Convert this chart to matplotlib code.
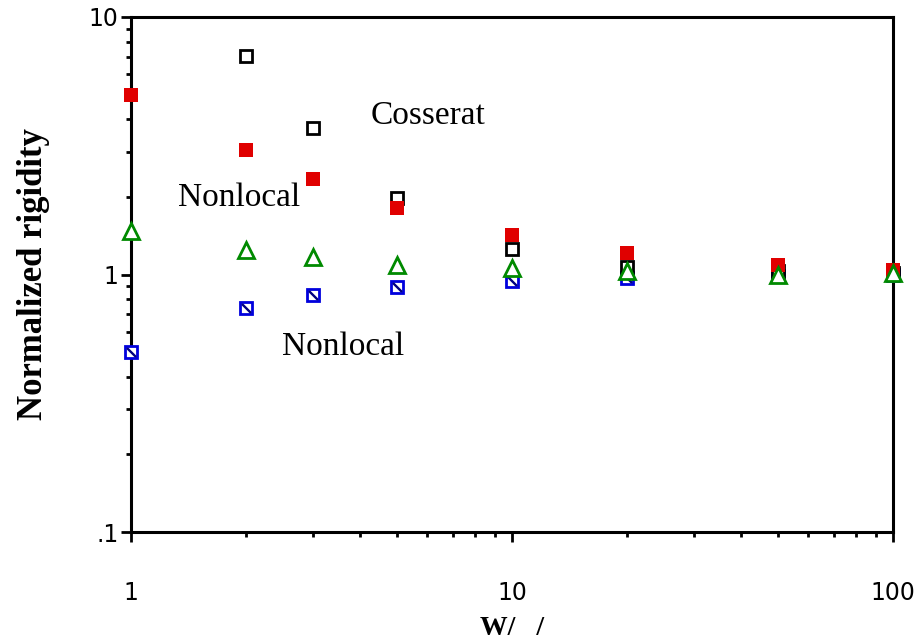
import matplotlib
matplotlib.use("Agg")
import matplotlib.pyplot as plt
from matplotlib.ticker import FixedLocator, LogLocator, NullFormatter

# Data
x_vals = [1, 2, 3, 5, 10, 20, 50, 100]
cosserat_x = [2, 3, 5, 10, 20, 50, 100]
cosserat = [7.05, 3.70, 1.99, 1.26, 1.07, 1.03, 1.01]
nonlocal_upper = [5.0, 3.04, 2.34, 1.81, 1.42, 1.21, 1.09, 1.045]
nonlocal_lower = [0.50, 0.744, 0.836, 0.898, 0.94, 0.97, 0.99, 1.0]
triangle = [1.47, 1.25, 1.165, 1.084, 1.06, 1.03, 1.0, 1.01]

xticks = [1, 10, 100]
xticklabels = ["1", "10", "100"]
yticks = [0.1, 1, 10]
yticklabels = [".1", "1", "10"]

fig = plt.figure(figsize=(9.21, 6.43), dpi=100)
ax = fig.add_axes([131/921, 1-532/643, (893-131)/921, (532-17)/643])
ax.set_xscale("log")
ax.set_yscale("log")
ax.set_xlim(1, 100)
ax.set_ylim(0.1, 10)

red = "#e00000"
blue = "#0000dd"
green = "#008a00"

ax.plot(x_vals, nonlocal_lower, linestyle="none", marker="s", markersize=8,
        markerfacecolor="white", markeredgecolor=blue, markeredgewidth=2.0, clip_on=False, zorder=3)
ax.plot(x_vals, nonlocal_lower, linestyle="none", marker=[(-0.8, 0.8), (0.8, -0.8)], markersize=6.5,
        markeredgecolor="#000080", markeredgewidth=1.7, clip_on=False, zorder=3)
ax.plot(cosserat_x, cosserat, linestyle="none", marker="s", markersize=8,
        markerfacecolor="white", markeredgecolor="black", markeredgewidth=2.0, clip_on=False, zorder=4)
ax.plot(x_vals, nonlocal_upper, linestyle="none", marker="s", markersize=9.5,
        markerfacecolor=red, markeredgecolor=red, markeredgewidth=0, clip_on=False, zorder=5)
ax.plot(x_vals, triangle, linestyle="none", marker="^", markersize=11.5,
        markerfacecolor="white", markeredgecolor=green, markeredgewidth=2.0, clip_on=False, zorder=6)

serif = ["Liberation Serif", "DejaVu Serif"]
ax.text(4.25, 4.15, "Cosserat", fontsize=24, family=serif, ha="left", va="center")
ax.text(1.33, 1.98, "Nonlocal", fontsize=24, family=serif, ha="left", va="center")
ax.text(2.49, 0.525, "Nonlocal", fontsize=24, family=serif, ha="left", va="center")

for s in ax.spines.values():
    s.set_linewidth(2.2)

ax.xaxis.set_major_locator(FixedLocator(xticks))
ax.set_xticklabels(xticklabels)
ax.yaxis.set_major_locator(FixedLocator(yticks))
ax.set_yticklabels(yticklabels)
ax.xaxis.set_minor_locator(LogLocator(base=10, subs=range(2, 10)))
ax.yaxis.set_minor_locator(LogLocator(base=10, subs=range(2, 10)))
ax.xaxis.set_minor_formatter(NullFormatter())
ax.yaxis.set_minor_formatter(NullFormatter())

ax.tick_params(axis="x", which="major", direction="out", length=7, width=2, labelsize=17, pad=28)
ax.tick_params(axis="x", which="minor", direction="out", length=3.5, width=2)
ax.tick_params(axis="y", which="major", direction="out", length=7, width=2, labelsize=17, pad=2)
ax.tick_params(axis="y", which="minor", direction="out", length=3.5, width=2)
for lab in ax.get_xticklabels() + ax.get_yticklabels():
    lab.set_family("DejaVu Sans")

ax.set_ylabel("Normalized rigidity", fontsize=25, fontweight="bold", family=serif, labelpad=28)
ax.set_xlabel("W/   /", fontsize=20, fontweight="bold", family=serif, labelpad=8)

fig.savefig("out.png", dpi=100)
